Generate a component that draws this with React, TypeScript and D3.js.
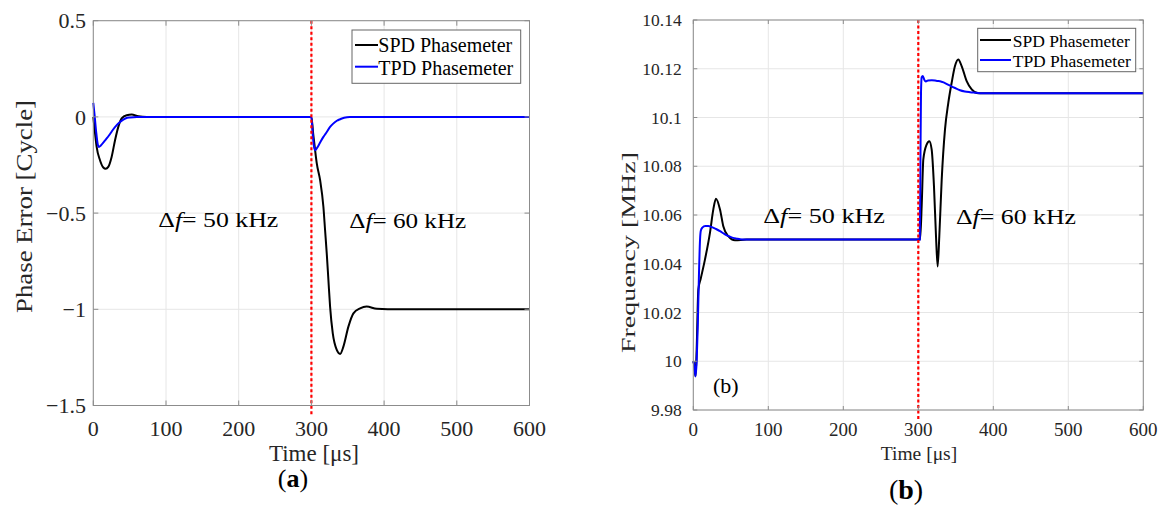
import React from 'react';
import * as d3 from 'd3';

const FONT = "'Liberation Serif', 'Times New Roman', Times, serif";

const xTicks = [0, 100, 200, 300, 400, 500, 600];
const phaseTicks = [0.5, 0, -0.5, -1, -1.5];
const phaseTickLabels = ['0.5', '0', '\u22120.5', '\u22121', '\u22121.5'];
const freqTicks = [9.98, 10, 10.02, 10.04, 10.06, 10.08, 10.1, 10.12, 10.14];
const freqTickLabels = ['9.98', '10', '10.02', '10.04', '10.06', '10.08', '10.1', '10.12', '10.14'];
const seriesNames = ['SPD Phasemeter', 'TPD Phasemeter'];
const stepTime = 300;

// (a) phase error [cycle]
const spdPhaseT = [0, 2, 4.6, 9.2, 13.8, 17, 20.6, 25.2, 29.9, 34.4, 39, 45.9, 52.8, 62, 73.5, 100, 300, 302.5, 305.1, 307.4, 312, 316.5, 318.8, 321.1, 323.4, 325.7, 329.4, 334.9, 339.5, 344, 350.9, 357.8, 367, 376, 390, 420, 600];
const spdPhaseV = [0, -0.07, -0.156, -0.225, -0.263, -0.27, -0.26, -0.208, -0.121, -0.052, -0.008, 0.009, 0.012, 0.003, 0, 0, 0, -0.09, -0.173, -0.242, -0.329, -0.467, -0.588, -0.709, -0.848, -0.986, -1.125, -1.211, -1.232, -1.194, -1.09, -1.021, -0.995, -0.986, -0.997, -1.0, -1.0];
const tpdPhaseT = [0, 2, 4, 6, 7.8, 10, 14, 18.4, 22, 26, 32.2, 36, 41.3, 45, 50.5, 60, 300, 301.5, 303, 305, 308, 312, 316.5, 320, 325.7, 330, 335, 339.5, 345, 353, 600];
const tpdPhaseV = [0.073, 0.0, -0.08, -0.14, -0.156, -0.15, -0.132, -0.112, -0.094, -0.072, -0.043, -0.029, -0.014, -0.007, -0.003, 0, 0, -0.07, -0.14, -0.173, -0.16, -0.133, -0.104, -0.085, -0.052, -0.035, -0.02, -0.012, -0.004, 0, 0];

// (b) frequency [MHz]
const spdFreqT = [0, 1.5, 3, 4.5, 6.7, 10, 15.6, 22.2, 26.7, 30.2, 35.6, 40, 46.7, 55.6, 71, 300, 302.4, 304.5, 306.7, 311.1, 314.7, 317.8, 320.9, 323.6, 325.8, 328, 331.2, 335.6, 340, 344.5, 348.9, 353.3, 357.8, 364.5, 371.2, 380, 391, 404, 600];
const spdFreqV = [10, 9.998, 9.9938, 10.005, 10.0294, 10.034, 10.0418, 10.0527, 10.0623, 10.0667, 10.0623, 10.0554, 10.0513, 10.0496, 10.0499, 10.05, 10.05, 10.0636, 10.0828, 10.0889, 10.0903, 10.0869, 10.0718, 10.0513, 10.0389, 10.0513, 10.0745, 10.0951, 10.106, 10.1143, 10.1211, 10.1238, 10.1211, 10.1149, 10.1115, 10.1099, 10.1099, 10.11, 10.11];
const tpdFreqT = [0, 1.5, 3, 4.5, 6, 7.5, 9, 10, 12, 16, 20, 25, 30, 35.6, 40, 44, 48.9, 53, 57.8, 65, 300, 302, 302.8, 303.6, 304.5, 306, 308, 310, 313, 318, 325, 329, 335, 342.2, 349, 355.6, 362, 368.9, 375, 382, 600];
const tpdFreqV = [10, 9.998, 9.9938, 10.0, 10.015, 10.035, 10.05, 10.0535, 10.0548, 10.0555, 10.0555, 10.055, 10.0543, 10.0534, 10.0525, 10.0517, 10.0511, 10.0506, 10.0503, 10.05, 10.05, 10.05, 10.08, 10.11, 10.1165, 10.117, 10.1155, 10.1148, 10.1152, 10.1153, 10.115, 10.1149, 10.1142, 10.1131, 10.1121, 10.1112, 10.1107, 10.1104, 10.1102, 10.11, 10.11];

const zip = (t: number[], v: number[]) => t.map((d, i) => [d, v[i]] as [number, number]);

type FrameProps = {
  xs: d3.ScaleLinear<number, number>;
  ys: d3.ScaleLinear<number, number>;
  yTicks: number[];
  tickLen: number;
};

function Grid({ xs, ys, yTicks }: FrameProps) {
  const [x0, x1] = xs.range();
  const [yb, yt] = ys.range();
  return (
    <g>
      {xTicks.map((t) => (
        <line key={'gx' + t} x1={xs(t)} x2={xs(t)} y1={yt} y2={yb} stroke="#e6e6e6" strokeWidth={1} />
      ))}
      {yTicks.map((t) => (
        <line key={'gy' + t} x1={x0} x2={x1} y1={ys(t)} y2={ys(t)} stroke="#e6e6e6" strokeWidth={1} />
      ))}
    </g>
  );
}

function Box({ xs, ys, yTicks, tickLen }: FrameProps) {
  const [x0, x1] = xs.range();
  const [yb, yt] = ys.range();
  const c = '#8c8c8c';
  return (
    <g stroke={c} strokeWidth={1} fill="none">
      <rect x={x0} y={yt} width={x1 - x0} height={yb - yt} />
      {xTicks.map((t) => (
        <g key={'tx' + t}>
          <line x1={xs(t)} x2={xs(t)} y1={yb} y2={yb - tickLen} />
          <line x1={xs(t)} x2={xs(t)} y1={yt} y2={yt + tickLen} />
        </g>
      ))}
      {yTicks.map((t) => (
        <g key={'ty' + t}>
          <line x1={x0} x2={x0 + tickLen} y1={ys(t)} y2={ys(t)} />
          <line x1={x1} x2={x1 - tickLen} y1={ys(t)} y2={ys(t)} />
        </g>
      ))}
    </g>
  );
}

const ts = { fontFamily: FONT };

export default function App() {
  // Panel (a)
  const xa = d3.scaleLinear().domain([0, 600]).range([93.3, 529.5]);
  const ya = d3.scaleLinear().domain([-1.5, 0.5]).range([405.5, 20.7]);
  // Panel (b)
  const xb = d3.scaleLinear().domain([0, 600]).range([693.3, 1143.3]);
  const yb = d3.scaleLinear().domain([9.98, 10.14]).range([410, 20]);

  const lineA = d3.line<[number, number]>().x((d) => xa(d[0])).y((d) => ya(d[1])).curve(d3.curveMonotoneX);
  const lineB = d3.line<[number, number]>().x((d) => xb(d[0])).y((d) => yb(d[1])).curve(d3.curveMonotoneX);

  const spdA = zip(spdPhaseT, spdPhaseV);
  const tpdA = zip(tpdPhaseT, tpdPhaseV);
  const spdB = zip(spdFreqT, spdFreqV);
  const tpdB = zip(tpdFreqT, tpdFreqV);

  return (
    <svg width={1165} height={506} style={{ position: 'absolute', left: 0, top: 0, background: '#fff', fontFamily: FONT }}>
      <rect x={0} y={0} width={1165} height={506} fill="#fff" />

      {/* ============ Panel (a) ============ */}
      <Grid xs={xa} ys={ya} yTicks={phaseTicks} tickLen={5} />
      <path d={lineA(spdA) || ''} fill="none" stroke="#000" strokeWidth={2} />
      <path d={lineA(tpdA) || ''} fill="none" stroke="#0000ff" strokeWidth={2} />
      <line x1={xa(stepTime)} x2={xa(stepTime)} y1={ya(0.5)} y2={ya(-1.5) + 10} stroke="#ff0000" strokeWidth={2.2} strokeDasharray="3,2.5" />
      <Box xs={xa} ys={ya} yTicks={phaseTicks} tickLen={5} />

      {xTicks.map((t) => (
        <text key={'xla' + t} style={ts} x={xa(t)} y={436} fontSize={22} textAnchor="middle" fill="#262626">{t}</text>
      ))}
      {phaseTicks.map((t, i) => (
        <text key={'yla' + t} style={ts} x={86} y={ya(t)} dy="0.35em" fontSize={22} textAnchor="end" fill="#262626">{phaseTickLabels[i]}</text>
      ))}
      <text style={ts} x={314} y={460.7} fontSize={23} textAnchor="middle" fill="#262626">Time [μs]</text>
      <text style={ts} transform="translate(32,206.5) rotate(-90)" fontSize={23} textAnchor="middle" fill="#262626" textLength={213} lengthAdjust="spacingAndGlyphs">Phase Error [Cycle]</text>

      <text style={ts} x={158.3} y={227.3} fontSize={21} fill="#000" textLength={120} lengthAdjust="spacingAndGlyphs">Δ<tspan fontStyle="italic">f</tspan>= 50 kHz</text>
      <text style={ts} x={349.3} y={228} fontSize={21} fill="#000" textLength={117} lengthAdjust="spacingAndGlyphs">Δ<tspan fontStyle="italic">f</tspan>= 60 kHz</text>

      {/* legend (a) */}
      <rect x={352} y={30} width={168.7} height={53.3} fill="#fff" stroke="#666" strokeWidth={1} />
      <line x1={355} x2={378} y1={45} y2={45} stroke="#000" strokeWidth={2} />
      <line x1={355} x2={378} y1={66.7} y2={66.7} stroke="#0000ff" strokeWidth={2} />
      <text style={ts} x={378.3} y={51.7} fontSize={20} fill="#000">{seriesNames[0]}</text>
      <text style={ts} x={378.3} y={75} fontSize={20} fill="#000">{seriesNames[1]}</text>

      <text style={ts} x={293} y={487} fontSize={26} textAnchor="middle" fill="#000">(<tspan fontWeight="bold">a</tspan>)</text>

      {/* ============ Panel (b) ============ */}
      <Grid xs={xb} ys={yb} yTicks={freqTicks} tickLen={4} />
      <path d={lineB(spdB) || ''} fill="none" stroke="#000" strokeWidth={2} />
      <path d={lineB(tpdB) || ''} fill="none" stroke="#0000ff" strokeWidth={2} />
      <line x1={xb(stepTime)} x2={xb(stepTime)} y1={yb(10.14)} y2={yb(9.98) + 11} stroke="#ff0000" strokeWidth={2.2} strokeDasharray="3,2.5" />
      <Box xs={xb} ys={yb} yTicks={freqTicks} tickLen={4} />

      {xTicks.map((t) => (
        <text key={'xlb' + t} style={ts} x={xb(t)} y={436} fontSize={19} textAnchor="middle" fill="#262626">{t}</text>
      ))}
      {freqTicks.map((t, i) => (
        <text key={'ylb' + t} style={ts} x={681.7} y={yb(t)} dy="0.35em" fontSize={17.5} textAnchor="end" fill="#262626">{freqTickLabels[i]}</text>
      ))}
      <text style={ts} x={919} y={460} fontSize={19.5} textAnchor="middle" fill="#262626">Time [μs]</text>
      <text style={ts} transform="translate(634.5,252.5) rotate(-90)" fontSize={18} textAnchor="middle" fill="#262626" textLength={201} lengthAdjust="spacingAndGlyphs">Frequency [MHz]</text>

      <text style={ts} x={763.3} y={223.3} fontSize={21} fill="#000" textLength={121.7} lengthAdjust="spacingAndGlyphs">Δ<tspan fontStyle="italic">f</tspan>= 50 kHz</text>
      <text style={ts} x={956} y={224} fontSize={21} fill="#000" textLength={120} lengthAdjust="spacingAndGlyphs">Δ<tspan fontStyle="italic">f</tspan>= 60 kHz</text>
      <text style={ts} x={713} y={393.3} fontSize={22} fill="#000">(b)</text>

      {/* legend (b) */}
      <rect x={977.7} y={28.3} width={158} height={43.4} fill="#fff" stroke="#666" strokeWidth={1} />
      <line x1={980} x2={1011} y1={40} y2={40} stroke="#000" strokeWidth={2} />
      <line x1={980} x2={1011} y1={60} y2={60} stroke="#0000ff" strokeWidth={2} />
      <text style={ts} x={1012.7} y={46.7} fontSize={17.5} fill="#000">{seriesNames[0]}</text>
      <text style={ts} x={1012.7} y={66.7} fontSize={17.5} fill="#000">{seriesNames[1]}</text>

      <text style={ts} x={906} y={499} fontSize={28} textAnchor="middle" fill="#000">(<tspan fontWeight="bold">b</tspan>)</text>
    </svg>
  );
}
